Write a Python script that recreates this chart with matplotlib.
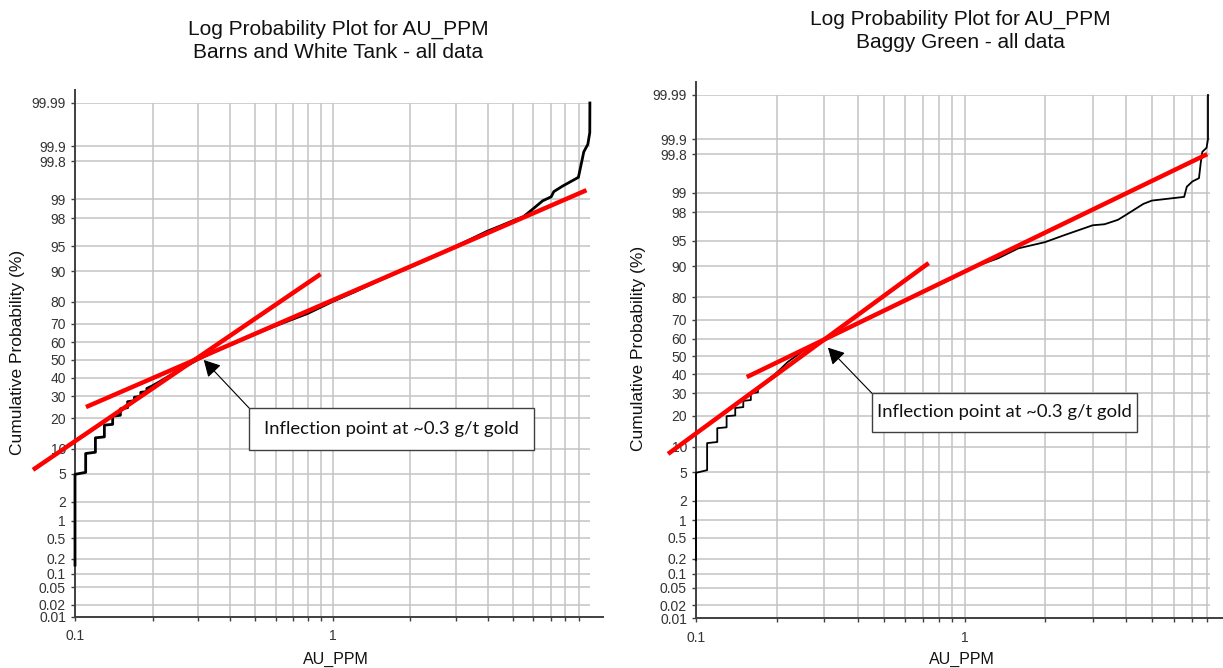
import numpy as np
import matplotlib
matplotlib.use("Agg")
import matplotlib.pyplot as plt
from matplotlib.patches import Rectangle
from matplotlib.ticker import FixedLocator, FixedFormatter, NullFormatter
from statistics import NormalDist

plt.rcParams['font.family'] = ['Liberation Sans', 'DejaVu Sans']

# cumulative distribution, Barns and White Tank
bw_au = [0.1, 0.1, 0.11, 0.11, 0.12, 0.12, 0.13, 0.13, 0.14, 0.14, 0.15, 0.15,
         0.16, 0.16, 0.17, 0.17, 0.18, 0.18, 0.19, 0.19, 0.2, 0.22, 0.25, 0.28,
         0.3, 0.35, 0.4, 0.5, 0.6, 0.7, 0.8, 1.0, 1.2, 1.5, 2.0, 2.5, 3.0, 3.5,
         4.0, 4.5, 5.0, 5.5, 5.8, 6.53, 7.04, 7.21, 7.81, 8.98, 9.28, 9.42,
         9.77, 9.94, 9.95]
bw_pct = [0.15, 4.9, 5.2, 8.8, 9.1, 13.0, 13.3, 17.3, 17.6, 20.8, 21.2, 24.0,
          24.5, 27.3, 27.8, 29.5, 30.0, 32.0, 32.4, 34.0, 35.5, 38.8, 43.8, 47.8,
          50.3, 55.0, 58.6, 64.6, 69.0, 72.3, 75.0, 80.2, 83.6, 87.4, 91.1, 93.4,
          95.0, 96.1, 96.9, 97.4, 97.8, 98.1, 98.4, 98.94, 99.09, 99.26, 99.41,
          99.59, 99.81, 99.87, 99.91, 99.95, 99.99]

# cumulative distribution, Baggy Green
bg_au = [0.1, 0.1, 0.11, 0.11, 0.12, 0.12, 0.13, 0.13, 0.14, 0.14, 0.15, 0.15,
         0.16, 0.16, 0.17, 0.17, 0.18, 0.19, 0.2, 0.22, 0.25, 0.3, 0.35, 0.4,
         0.5, 0.6, 0.7, 0.8, 0.9, 1.0, 1.1, 1.336, 1.585, 1.99, 2.36, 3.0, 3.32,
         3.72, 3.99, 4.63, 4.98, 6.57, 6.72, 7.05, 7.46, 7.57, 7.68, 7.96, 8.06,
         8.06]
bg_pct = [0.19, 4.9, 5.3, 10.9, 11.2, 15.4, 15.7, 19.8, 20.1, 23.2, 23.6, 26.4,
          26.8, 30.0, 30.5, 33.0, 35.5, 38.3, 41.0, 47.0, 53.0, 60.0, 64.5, 68.5,
          74.5, 78.6, 82.0, 84.5, 86.6, 88.6, 90.0, 91.9, 93.8, 94.8, 95.8, 96.9,
          97.0, 97.4, 97.8, 98.5, 98.67, 98.84, 99.21, 99.36, 99.44, 99.70,
          99.82, 99.85, 99.90, 99.99]

# trend line end points: (AU_PPM, cumulative %)
bw_steep_au = [0.0687, 0.897]
bw_steep_pct = [5.6, 89.3]
bw_flat_au = [0.1103, 9.65]
bw_flat_pct = [24.8, 99.3]
bg_steep_au = [0.0787, 0.735]
bg_steep_pct = [8.3, 90.8]
bg_flat_au = [0.1545, 8.01]
bg_flat_pct = [38.5, 99.8]

prob_ticks = [0.01, 0.02, 0.05, 0.1, 0.2, 0.5, 1, 2, 5, 10, 20, 30, 40, 50,
              60, 70, 80, 90, 95, 98, 99, 99.8, 99.9, 99.99]
prob_labels = ['0.01', '0.02', '0.05', '0.1', '0.2', '0.5', '1', '2', '5',
               '10', '20', '30', '40', '50', '60', '70', '80', '90', '95',
               '98', '99', '99.8', '99.9', '99.99']

note = "Inflection point at ~0.3 g/t gold"

_nd = NormalDist()


def _z(q):
    if not np.isfinite(q):
        return np.nan
    return _nd.inv_cdf(min(max(q, 1e-12), 1 - 1e-12))


_ppf = np.vectorize(_z, otypes=[float])
_cdf = np.vectorize(_nd.cdf, otypes=[float])


def prob_fwd(p):
    return _ppf(np.asarray(p, dtype=float) / 100.0)


def prob_inv(z):
    return _cdf(np.asarray(z, dtype=float)) * 100.0


GRID = '#c4c4c4'
AXC = '#404040'


def panel(rect, title2, au, pct, steep, flat, xmax, data_lw, tip, box,
          title_x, title_y, ylab_x, xlab_x):
    ax = fig.add_axes(rect)
    ax.set_xscale('log')
    ax.set_yscale('function', functions=(prob_fwd, prob_inv))
    ax.set_xlim(0.1, xmax)
    ax.set_ylim(0.01, 99.99)

    ax.yaxis.set_major_locator(FixedLocator(prob_ticks))
    ax.yaxis.set_major_formatter(FixedFormatter(prob_labels))
    ax.yaxis.set_minor_locator(FixedLocator([]))
    ax.xaxis.set_major_locator(FixedLocator([0.1, 1]))
    ax.xaxis.set_major_formatter(FixedFormatter(['0.1', '1']))
    minors = [m * d for d in (0.1, 1) for m in range(2, 10)]
    ax.xaxis.set_minor_locator(FixedLocator(minors))
    ax.xaxis.set_minor_formatter(NullFormatter())

    ax.grid(True, which='both', color=GRID, lw=1.1)
    ax.set_axisbelow(True)
    ax.tick_params(axis='both', which='both', direction='out', length=3,
                   width=1, color=AXC, labelcolor='#333333', labelsize=10)
    ax.tick_params(axis='x', pad=6)
    for s in ax.spines.values():
        s.set_visible(False)
    ax.plot([0, 0], [0, 1.025], transform=ax.transAxes, color=AXC, lw=1.4,
            clip_on=False)
    ax.plot([0, 1.025], [0, 0], transform=ax.transAxes, color=AXC, lw=1.4,
            clip_on=False)

    ax.plot(au, pct, color='black', lw=data_lw, zorder=3, clip_on=False)
    for xs, ys in (steep, flat):
        ax.plot(xs, ys, color='#ff0000', lw=3.2, zorder=4, clip_on=False,
                solid_capstyle='butt')

    x0, x1, y0, y1 = box
    ax.add_patch(Rectangle((x0, y0), x1 - x0, y1 - y0, transform=ax.transAxes,
                           facecolor='white', edgecolor=AXC, lw=1, zorder=5,
                           clip_on=False))
    ax.text((x0 + x1) / 2, (y0 + y1) / 2, note, transform=ax.transAxes,
            ha='center', va='center', family='Lato', fontsize=13.3,
            color='#111111', zorder=6)
    ax.annotate('', xy=tip, xycoords='data', xytext=(x0, y1),
                textcoords='axes fraction',
                arrowprops=dict(arrowstyle='-|>,head_length=0.55,head_width=0.3',
                                color='black', lw=0.8, mutation_scale=18,
                                shrinkA=0, shrinkB=0),
                zorder=6)

    fig.text(title_x, title_y, "Log Probability Plot for AU_PPM\n" + title2,
             ha='center', va='center', fontsize=15, color='#111111',
             linespacing=1.25)
    fig.text(ylab_x, rect[1] + rect[3] / 2 + 0.012,
             'Cumulative Probability (%)', rotation=90, ha='center',
             va='center', fontsize=12.5, color='#111111')
    fig.text(xlab_x, 1 - 659 / 668, 'AU_PPM', ha='center', va='center',
             fontsize=11.5, color='#111111')
    return ax


W, H = 1223, 668
fig = plt.figure(figsize=(W / 100, H / 100), dpi=100)

panel([75 / W, 51 / H, 515 / W, 514 / H], "Barns and White Tank - all data",
      bw_au, bw_pct, (bw_steep_au, bw_steep_pct), (bw_flat_au, bw_flat_pct),
      9.96, 2.0, (0.316, 50), (0.338, 0.891, 0.325, 0.4066),
      338 / W, 1 - 40.5 / H, 18 / W, 336 / W)

panel([696 / W, 50 / H, 514 / W, 523 / H], "Baggy Green - all data",
      bg_au, bg_pct, (bg_steep_au, bg_steep_pct), (bg_flat_au, bg_flat_pct),
      8.2, 1.3, (0.31, 55), (0.342, 0.858, 0.356, 0.430),
      960 / W, 1 - 31 / H, 638 / W, 962 / W)

fig.savefig('out.png', dpi=100, facecolor='white')
